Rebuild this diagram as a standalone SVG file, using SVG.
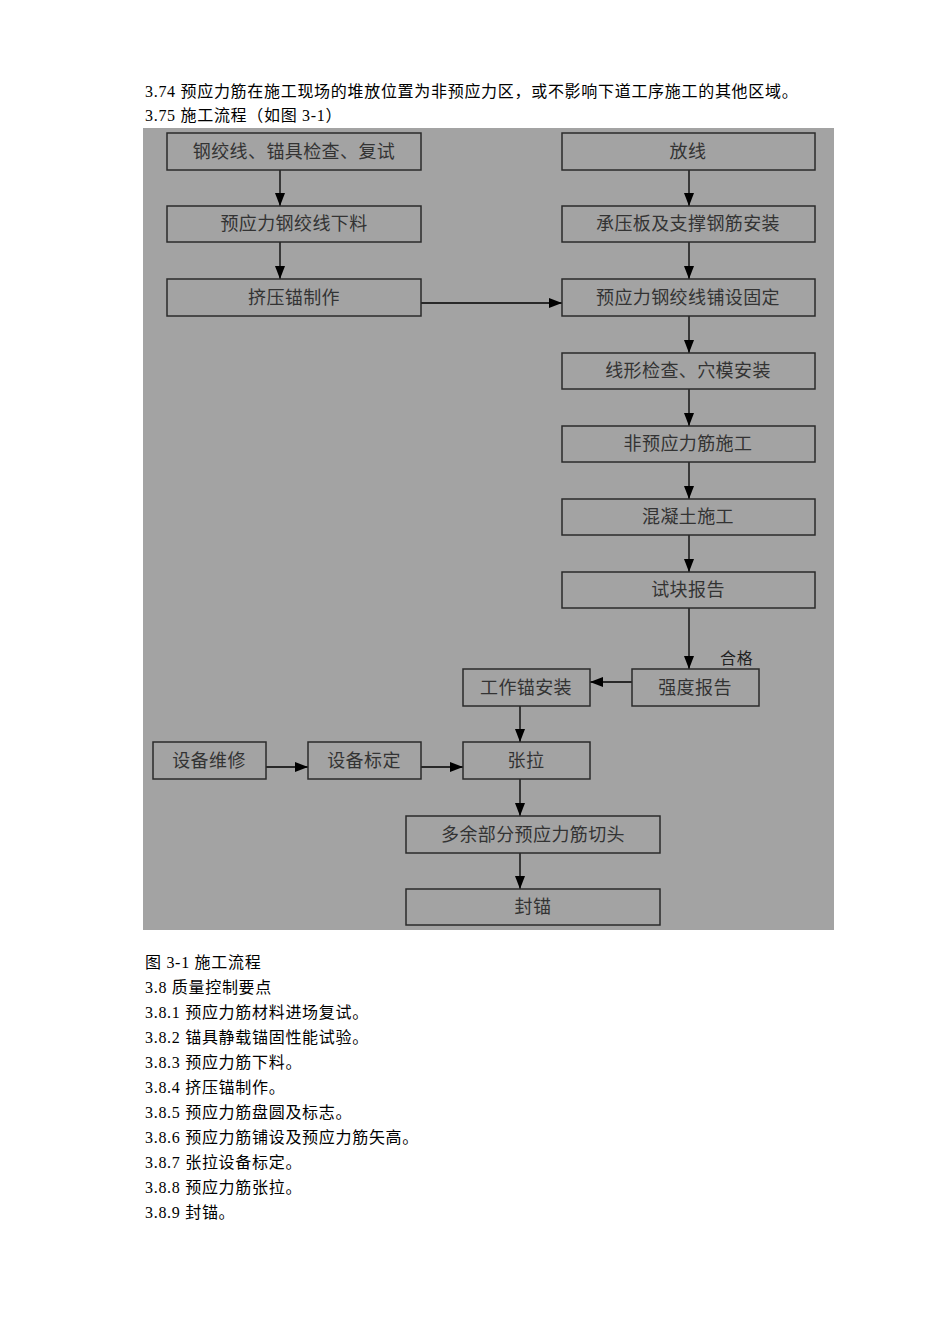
<svg xmlns="http://www.w3.org/2000/svg" width="950" height="1344" viewBox="0 0 950 1344">
<style>
.doc{font-family:"Liberation Serif","Noto Sans CJK SC",serif;font-size:16px;fill:#000;letter-spacing:0.7px}
.box{fill:none;stroke:#2b2b2b;stroke-width:1.5}
.lbl{font-family:"Liberation Serif","Noto Sans CJK SC",serif;font-size:18px;fill:#333;text-anchor:middle;letter-spacing:0.4px}
.ln{stroke:#000;stroke-width:1.3;fill:none}
</style>
<defs>
<marker id="ah" viewBox="0 0 13 10" refX="13" refY="5" markerWidth="13" markerHeight="10" markerUnits="userSpaceOnUse" orient="auto">
<path d="M0,0 L13,5 L0,10 Z" fill="#000"/>
</marker>
</defs>
<rect width="950" height="1344" fill="#fff"/>
<text class="doc" x="145" y="97">3.74 预应力筋在施工现场的堆放位置为非预应力区，或不影响下道工序施工的其他区域。</text>
<text class="doc" x="145" y="121">3.75 施工流程（如图 3-1）</text>
<rect x="143" y="128" width="691" height="802" fill="#a3a3a3"/>
<g id="connectors">
<line class="ln" x1="280" y1="170" x2="280" y2="206" marker-end="url(#ah)"/>
<line class="ln" x1="280" y1="242" x2="280" y2="279" marker-end="url(#ah)"/>
<line class="ln" x1="421" y1="303" x2="562" y2="303" marker-end="url(#ah)"/>
<line class="ln" x1="689" y1="170" x2="689" y2="206" marker-end="url(#ah)"/>
<line class="ln" x1="689" y1="242" x2="689" y2="279" marker-end="url(#ah)"/>
<line class="ln" x1="689" y1="316" x2="689" y2="353" marker-end="url(#ah)"/>
<line class="ln" x1="689" y1="389" x2="689" y2="426" marker-end="url(#ah)"/>
<line class="ln" x1="689" y1="462" x2="689" y2="499" marker-end="url(#ah)"/>
<line class="ln" x1="689" y1="535" x2="689" y2="572" marker-end="url(#ah)"/>
<line class="ln" x1="689" y1="608" x2="689" y2="669" marker-end="url(#ah)"/>
<line class="ln" x1="632" y1="682" x2="590" y2="682" marker-end="url(#ah)"/>
<line class="ln" x1="520" y1="706" x2="520" y2="742" marker-end="url(#ah)"/>
<line class="ln" x1="266" y1="767" x2="308" y2="767" marker-end="url(#ah)"/>
<line class="ln" x1="421" y1="767" x2="463" y2="767" marker-end="url(#ah)"/>
<line class="ln" x1="520" y1="779" x2="520" y2="816" marker-end="url(#ah)"/>
<line class="ln" x1="520" y1="853" x2="520" y2="889" marker-end="url(#ah)"/>
<text class="doc" x="720" y="664" style="fill:#222">合格</text>
</g>
<g id="n1"><rect class="box" x="167" y="133" width="254" height="37"/><text class="lbl" x="294" y="158">钢绞线、锚具检查、复试</text></g>
<g id="n2"><rect class="box" x="167" y="206" width="254" height="36"/><text class="lbl" x="294" y="230">预应力钢绞线下料</text></g>
<g id="n3"><rect class="box" x="167" y="279" width="254" height="37"/><text class="lbl" x="294" y="304">挤压锚制作</text></g>
<g id="r1"><rect class="box" x="562" y="133" width="253" height="37"/><text class="lbl" x="688" y="158">放线</text></g>
<g id="r2"><rect class="box" x="562" y="206" width="253" height="36"/><text class="lbl" x="688" y="230">承压板及支撑钢筋安装</text></g>
<g id="r3"><rect class="box" x="562" y="279" width="253" height="37"/><text class="lbl" x="688" y="304">预应力钢绞线铺设固定</text></g>
<g id="r4"><rect class="box" x="562" y="353" width="253" height="36"/><text class="lbl" x="688" y="377">线形检查、穴模安装</text></g>
<g id="r5"><rect class="box" x="562" y="426" width="253" height="36"/><text class="lbl" x="688" y="450">非预应力筋施工</text></g>
<g id="r6"><rect class="box" x="562" y="499" width="253" height="36"/><text class="lbl" x="688" y="523">混凝土施工</text></g>
<g id="r7"><rect class="box" x="562" y="572" width="253" height="36"/><text class="lbl" x="688" y="596">试块报告</text></g>
<g id="r8"><rect class="box" x="632" y="669" width="127" height="37"/><text class="lbl" x="695" y="694">强度报告</text></g>
<g id="m1"><rect class="box" x="463" y="669" width="127" height="37"/><text class="lbl" x="526" y="694">工作锚安装</text></g>
<g id="m2"><rect class="box" x="463" y="742" width="127" height="37"/><text class="lbl" x="526" y="767">张拉</text></g>
<g id="l1"><rect class="box" x="153" y="742" width="113" height="37"/><text class="lbl" x="209" y="767">设备维修</text></g>
<g id="l2"><rect class="box" x="308" y="742" width="113" height="37"/><text class="lbl" x="364" y="767">设备标定</text></g>
<g id="m3"><rect class="box" x="406" y="816" width="254" height="37"/><text class="lbl" x="533" y="841">多余部分预应力筋切头</text></g>
<g id="m4"><rect class="box" x="406" y="889" width="254" height="36"/><text class="lbl" x="533" y="913">封锚</text></g>
<text class="doc" x="145" y="968">图 3-1 施工流程</text>
<text class="doc" x="145" y="993">3.8 质量控制要点</text>
<text class="doc" x="145" y="1018">3.8.1 预应力筋材料进场复试。</text>
<text class="doc" x="145" y="1043">3.8.2 锚具静载锚固性能试验。</text>
<text class="doc" x="145" y="1068">3.8.3 预应力筋下料。</text>
<text class="doc" x="145" y="1093">3.8.4 挤压锚制作。</text>
<text class="doc" x="145" y="1118">3.8.5 预应力筋盘圆及标志。</text>
<text class="doc" x="145" y="1143">3.8.6 预应力筋铺设及预应力筋矢高。</text>
<text class="doc" x="145" y="1168">3.8.7 张拉设备标定。</text>
<text class="doc" x="145" y="1193">3.8.8 预应力筋张拉。</text>
<text class="doc" x="145" y="1218">3.8.9 封锚。</text>
</svg>
